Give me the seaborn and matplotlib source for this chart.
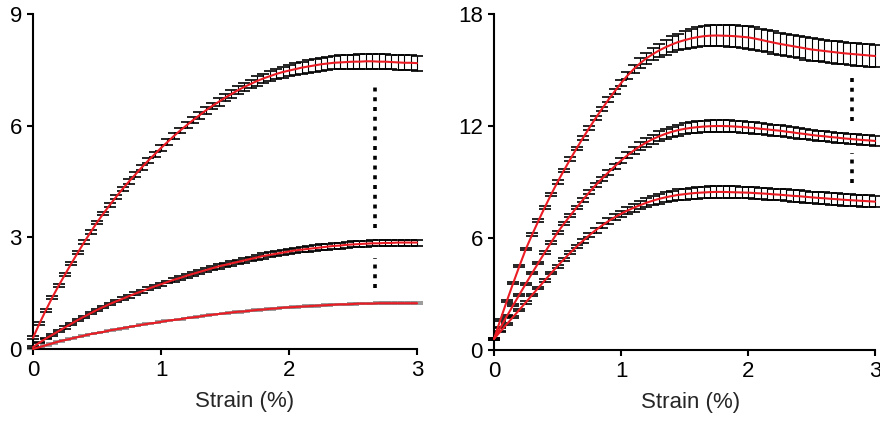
import numpy as np
import pandas as pd
import seaborn as sns
import matplotlib
matplotlib.use('Agg')
import matplotlib.pyplot as plt

# strain grid (%), sampled every 0.05
strain = np.linspace(0, 3, 61)

# left panel: three curves (mean, sem)
left_top = [0.30, 0.68, 1.04, 1.38, 1.70, 2.00, 2.30, 2.59, 2.87, 3.14,
            3.40, 3.64, 3.87, 4.09, 4.30, 4.50, 4.69, 4.88, 5.06, 5.23,
            5.40, 5.56, 5.72, 5.87, 6.01, 6.15, 6.28, 6.41, 6.53, 6.64,
            6.75, 6.85, 6.95, 7.04, 7.12, 7.20, 7.27, 7.33, 7.39, 7.44,
            7.48, 7.52, 7.56, 7.59, 7.62, 7.65, 7.67, 7.69, 7.70, 7.71,
            7.72, 7.72, 7.73, 7.73, 7.72, 7.72, 7.71, 7.70, 7.69, 7.69, 7.68]
left_top_err = [0.04, 0.04, 0.04, 0.04, 0.04, 0.04, 0.04, 0.05, 0.05, 0.05,
                0.05, 0.05, 0.05, 0.05, 0.05, 0.06, 0.06, 0.06, 0.06, 0.06,
                0.07, 0.07, 0.07, 0.08, 0.08, 0.08, 0.09, 0.09, 0.09, 0.10,
                0.10, 0.11, 0.11, 0.12, 0.12, 0.13, 0.13, 0.14, 0.14, 0.15,
                0.15, 0.16, 0.16, 0.17, 0.17, 0.18, 0.18, 0.18, 0.19, 0.19,
                0.19, 0.20, 0.20, 0.20, 0.20, 0.20, 0.20, 0.20, 0.20, 0.20, 0.20]

left_mid = [0.05, 0.17, 0.28, 0.38, 0.48, 0.58, 0.68, 0.78, 0.87, 0.96,
            1.05, 1.13, 1.21, 1.28, 1.35, 1.42, 1.49, 1.55, 1.62, 1.68,
            1.74, 1.80, 1.86, 1.91, 1.97, 2.02, 2.07, 2.12, 2.17, 2.22,
            2.26, 2.30, 2.34, 2.38, 2.42, 2.46, 2.50, 2.53, 2.56, 2.59,
            2.62, 2.65, 2.67, 2.69, 2.71, 2.73, 2.75, 2.77, 2.78, 2.80,
            2.81, 2.82, 2.83, 2.84, 2.84, 2.85, 2.85, 2.86, 2.86, 2.86, 2.86]
left_mid_err = [0.02, 0.02, 0.02, 0.03, 0.03, 0.03, 0.03, 0.03, 0.03, 0.03,
                0.03, 0.03, 0.03, 0.03, 0.04, 0.04, 0.04, 0.04, 0.04, 0.04,
                0.04, 0.04, 0.05, 0.05, 0.05, 0.05, 0.05, 0.05, 0.05, 0.06,
                0.06, 0.06, 0.06, 0.06, 0.06, 0.06, 0.07, 0.07, 0.07, 0.07,
                0.07, 0.07, 0.07, 0.08, 0.08, 0.08, 0.08, 0.08, 0.08, 0.08,
                0.08, 0.08, 0.08, 0.08, 0.08, 0.08, 0.08, 0.08, 0.08, 0.08, 0.08]

left_low = [0.00, 0.05, 0.10, 0.15, 0.20, 0.24, 0.28, 0.32, 0.36, 0.40,
            0.43, 0.46, 0.50, 0.53, 0.56, 0.59, 0.62, 0.65, 0.68, 0.70,
            0.73, 0.76, 0.78, 0.80, 0.83, 0.85, 0.87, 0.90, 0.92, 0.94,
            0.96, 0.98, 1.00, 1.01, 1.03, 1.05, 1.06, 1.08, 1.09, 1.11,
            1.12, 1.13, 1.14, 1.15, 1.16, 1.17, 1.18, 1.19, 1.20, 1.20,
            1.21, 1.22, 1.22, 1.22, 1.23, 1.23, 1.23, 1.23, 1.23, 1.23, 1.23]
left_low_err = [0.01, 0.01, 0.01, 0.01, 0.01, 0.01, 0.01, 0.01, 0.01, 0.01,
                0.01, 0.01, 0.01, 0.01, 0.01, 0.01, 0.01, 0.01, 0.01, 0.01,
                0.01, 0.01, 0.01, 0.01, 0.01, 0.01, 0.01, 0.01, 0.01, 0.01,
                0.02, 0.02, 0.02, 0.02, 0.02, 0.02, 0.02, 0.02, 0.02, 0.02,
                0.02, 0.02, 0.02, 0.02, 0.02, 0.02, 0.02, 0.02, 0.02, 0.02,
                0.02, 0.02, 0.02, 0.02, 0.02, 0.02, 0.02, 0.02, 0.02, 0.02, 0.02]

# right panel: three curves (mean, sem)
right_top = [0.60, 1.62, 2.61, 3.57, 4.50, 5.40, 6.18, 6.93, 7.65, 8.34,
             9.00, 9.62, 10.22, 10.80, 11.36, 11.90, 12.42, 12.92, 13.40, 13.86,
             14.30, 14.70, 15.05, 15.36, 15.63, 15.85, 16.05, 16.22, 16.37, 16.50,
             16.60, 16.69, 16.76, 16.81, 16.84, 16.85, 16.84, 16.83, 16.81, 16.78,
             16.75, 16.69, 16.62, 16.54, 16.47, 16.40, 16.34, 16.28, 16.22, 16.16,
             16.10, 16.06, 16.02, 15.98, 15.94, 15.90, 15.87, 15.84, 15.81, 15.78, 15.75]
right_top_err = [0.05, 0.05, 0.05, 0.06, 0.06, 0.06, 0.07, 0.07, 0.08, 0.08,
                 0.09, 0.09, 0.10, 0.10, 0.11, 0.11, 0.12, 0.12, 0.13, 0.14,
                 0.16, 0.19, 0.22, 0.26, 0.30, 0.34, 0.37, 0.40, 0.43, 0.45,
                 0.47, 0.50, 0.52, 0.54, 0.56, 0.57, 0.58, 0.58, 0.59, 0.59,
                 0.60, 0.60, 0.60, 0.60, 0.60, 0.60, 0.60, 0.60, 0.60, 0.60,
                 0.60, 0.60, 0.60, 0.60, 0.60, 0.60, 0.60, 0.60, 0.60, 0.60, 0.60]

right_mid = [0.60, 1.20, 1.80, 2.39, 2.97, 3.55, 4.12, 4.68, 5.23, 5.77,
             6.30, 6.76, 7.20, 7.63, 8.05, 8.45, 8.83, 9.18, 9.52, 9.84,
             10.15, 10.43, 10.69, 10.92, 11.12, 11.30, 11.45, 11.58, 11.69, 11.78,
             11.85, 11.90, 11.94, 11.97, 11.99, 12.00, 12.00, 11.99, 11.97, 11.95,
             11.92, 11.89, 11.85, 11.82, 11.78, 11.75, 11.70, 11.66, 11.61, 11.57,
             11.52, 11.48, 11.45, 11.41, 11.38, 11.34, 11.31, 11.28, 11.25, 11.23, 11.20]
right_mid_err = [0.04, 0.04, 0.05, 0.05, 0.05, 0.06, 0.06, 0.06, 0.07, 0.07,
                 0.08, 0.08, 0.09, 0.09, 0.10, 0.10, 0.11, 0.11, 0.12, 0.13,
                 0.14, 0.16, 0.18, 0.20, 0.22, 0.24, 0.26, 0.27, 0.28, 0.29,
                 0.30, 0.30, 0.31, 0.31, 0.31, 0.31, 0.31, 0.31, 0.31, 0.31,
                 0.30, 0.30, 0.30, 0.30, 0.29, 0.29, 0.29, 0.28, 0.28, 0.28,
                 0.28, 0.27, 0.27, 0.27, 0.27, 0.27, 0.27, 0.27, 0.27, 0.27, 0.27]

right_low = [0.60, 0.99, 1.38, 1.77, 2.16, 2.55, 2.95, 3.34, 3.73, 4.12,
             4.50, 4.86, 5.21, 5.54, 5.85, 6.15, 6.42, 6.67, 6.90, 7.11,
             7.30, 7.47, 7.62, 7.76, 7.89, 8.00, 8.10, 8.18, 8.25, 8.31,
             8.35, 8.39, 8.42, 8.44, 8.46, 8.47, 8.47, 8.46, 8.45, 8.44,
             8.43, 8.41, 8.39, 8.37, 8.34, 8.32, 8.29, 8.26, 8.24, 8.21,
             8.18, 8.15, 8.13, 8.10, 8.08, 8.05, 8.03, 8.01, 7.99, 7.97, 7.95]
right_low_err = [0.04, 0.04, 0.05, 0.05, 0.05, 0.06, 0.06, 0.06, 0.07, 0.07,
                 0.08, 0.08, 0.09, 0.10, 0.11, 0.12, 0.13, 0.14, 0.15, 0.16,
                 0.17, 0.19, 0.20, 0.22, 0.23, 0.25, 0.26, 0.27, 0.28, 0.29,
                 0.30, 0.30, 0.31, 0.31, 0.31, 0.31, 0.31, 0.31, 0.31, 0.31,
                 0.31, 0.31, 0.31, 0.31, 0.31, 0.31, 0.31, 0.31, 0.31, 0.31,
                 0.31, 0.31, 0.31, 0.31, 0.31, 0.31, 0.31, 0.31, 0.31, 0.31, 0.31]

# significance markers: x position and (low, high) extent of each dotted segment
left_sig_x = 2.67
left_sig_spans = [(3.25, 7.18), (1.64, 2.45)]
right_sig_x = 2.82
right_sig_spans = [(12.25, 14.85), (8.95, 10.55)]

x_ticks = [0, 1, 2, 3]
left_yticks = [0, 3, 6, 9]
right_yticks = [0, 6, 12, 18]
x_label = 'Strain (%)'

RED = '#ec1c24'
FS = 16

sns.set_style('ticks')
plt.rcParams['font.family'] = ['Liberation Sans', 'DejaVu Sans']
plt.rcParams['axes.linewidth'] = 1.5

fig = plt.figure(figsize=(8.8, 4.21), dpi=100)
ax_l = fig.add_axes([0.0375, 0.171, 0.4364, 0.7957])
ax_r = fig.add_axes([0.5614, 0.1686, 0.4330, 0.7981])


def draw_curve(ax, mean, err, bar_color='black'):
    ax.errorbar(strain, mean, yerr=err, fmt='none', ecolor=bar_color,
                elinewidth=0.8, capsize=4.6, capthick=1.2, clip_on=False,
                zorder=2)
    df = pd.DataFrame({'strain': strain, 'value': mean})
    sns.lineplot(data=df, x='strain', y='value', ax=ax, color=RED,
                 linewidth=1.5, zorder=3, clip_on=False)


def draw_sig(ax, xpos, spans):
    for lo, hi in spans:
        ax.plot([xpos, xpos], [lo, hi], color='black', linewidth=2.6,
                linestyle=(0, (1.1, 1.6)), dash_capstyle='butt', zorder=4)


draw_curve(ax_l, left_low, left_low_err, bar_color='#8a8a8a')
draw_curve(ax_l, left_mid, left_mid_err)
draw_curve(ax_l, left_top, left_top_err)
draw_sig(ax_l, left_sig_x, left_sig_spans)

draw_curve(ax_r, right_low, right_low_err)
draw_curve(ax_r, right_mid, right_mid_err)
draw_curve(ax_r, right_top, right_top_err)
draw_sig(ax_r, right_sig_x, right_sig_spans)

for ax, yt, lab_x in [(ax_l, left_yticks, 0.55), (ax_r, right_yticks, 0.515)]:
    ax.set_xlim(0, 3)
    ax.set_ylim(yt[0], yt[-1])
    ax.set_xticks(x_ticks)
    ax.set_yticks(yt)
    ax.tick_params(axis='both', direction='out', length=4, width=1.5,
                   labelsize=FS, pad=4, color='black', labelcolor='black')
    ax.set_xlabel(x_label, fontsize=FS)
    ax.xaxis.set_label_coords(lab_x, -0.125)
    ax.set_ylabel('')
    for s in ['left', 'bottom']:
        ax.spines[s].set_color('black')
    sns.despine(ax=ax)

fig.savefig('out.png', dpi=100)
